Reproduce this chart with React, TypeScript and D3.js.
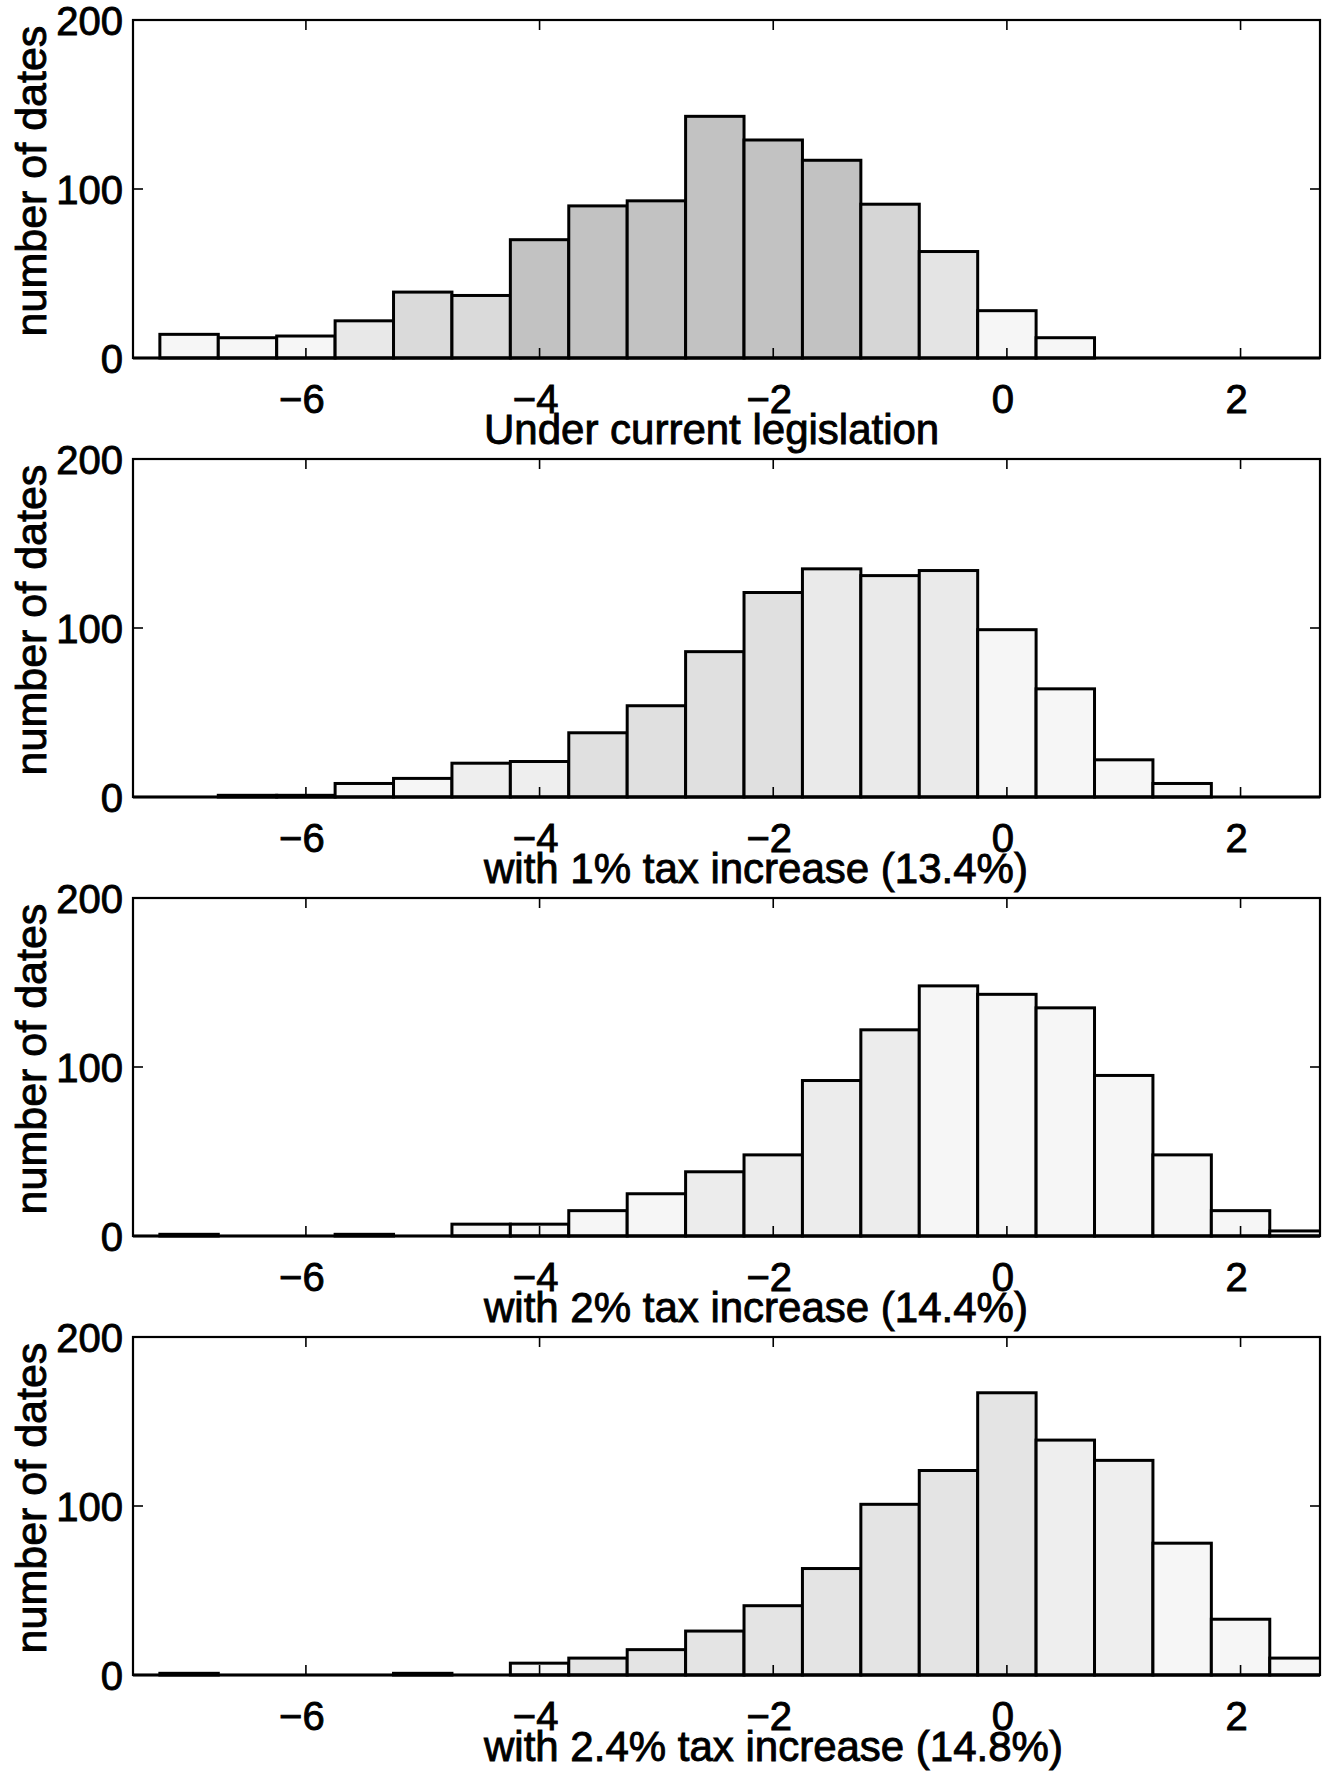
import React from "react";
import * as d3 from "d3";

// ---------- data ----------
const BIN_CENTERS = [-7, -6.5, -6, -5.5, -5, -4.5, -4, -3.5, -3, -2.5, -2, -1.5, -1, -0.5, 0, 0.5, 1, 1.5, 2, 2.5];
const BIN_WIDTH = 0.5;

const COUNTS_CURRENT = [14, 12, 13, 22, 39, 37, 70, 90, 93, 143, 129, 117, 91, 63, 28, 12, 0, 0, 0, 0];
const COUNTS_TAX_1 = [0, 1, 1, 8, 11, 20, 21, 38, 54, 86, 121, 135, 131, 134, 99, 64, 22, 8, 0, 0];
const COUNTS_TAX_2 = [1, 0, 0, 1, 0, 7, 7, 15, 25, 38, 48, 92, 122, 148, 143, 135, 95, 48, 15, 3];
const COUNTS_TAX_24 = [1, 0, 0, 0, 1, 0, 7, 10, 15, 26, 41, 63, 101, 121, 167, 139, 127, 78, 33, 10];

const PANEL_TITLES = [
  "Under current legislation",
  "with 1% tax increase (13.4%)",
  "with 2% tax increase (14.4%)",
  "with 2.4% tax increase (14.8%)",
];

const X_TICKS = [-6, -4, -2, 0, 2];
const Y_TICKS = [0, 100, 200];
const X_DOMAIN = [-7.48, 2.68];
const Y_DOMAIN = [0, 200];
const Y_LABEL = "number of dates";

// ---------- style (not data) ----------
const SHADE_RULES = [
  [
    { from: -4.1, to: -1.4, c: "#c2c2c2" },
    { from: -5.1, to: -4.4, c: "#dadada" },
    { from: -1.1, to: -0.9, c: "#d6d6d6" },
    { from: -0.6, to: -0.4, c: "#e4e4e4" },
    { from: -5.6, to: -5.4, c: "#e8e8e8" },
  ],
  [
    { from: -3.6, to: -1.9, c: "#e0e0e0" },
    { from: -1.6, to: -0.4, c: "#eaeaea" },
    { from: -4.6, to: -3.9, c: "#eeeeee" },
  ],
  [
    { from: -2.6, to: -0.9, c: "#ececec" },
  ],
  [
    { from: -3.6, to: 0.1, c: "#e4e4e4" },
    { from: 0.4, to: 1.1, c: "#eeeeee" },
  ],
];
const DEFAULT_SHADE = "#f6f6f6";

const W = 1331;
const H = 1771;
const LEFT = 133;
const RIGHT = 1320;
const PANEL_TOPS = [20, 459, 898, 1337];
const PANEL_H = 338;
const FONT = "'Liberation Sans', Arial, Helvetica, sans-serif";
const TEXT_STROKE = 0.9;

const SERIES = [COUNTS_CURRENT, COUNTS_TAX_1, COUNTS_TAX_2, COUNTS_TAX_24];

const fmtTick = (v: number) => (v < 0 ? "\u2212" + Math.abs(v) : String(v));

function shadeFor(panel: number, center: number) {
  for (const r of SHADE_RULES[panel]) {
    if (center >= r.from && center <= r.to) return r.c;
  }
  return DEFAULT_SHADE;
}

function Panel({ idx }: { idx: number }) {
  const top = PANEL_TOPS[idx];
  const bottom = top + PANEL_H;
  const x = d3.scaleLinear().domain(X_DOMAIN).range([LEFT, RIGHT]);
  const y = d3.scaleLinear().domain(Y_DOMAIN).range([bottom, top]);
  const counts = SERIES[idx];
  const clipId = `clip-${idx}`;
  const tickLen = 10;
  const textProps = {
    fontFamily: FONT,
    fill: "#000",
    stroke: "#000",
    strokeWidth: TEXT_STROKE,
  };

  return (
    <g>
      <defs>
        <clipPath id={clipId}>
          <rect x={LEFT} y={top - 2} width={RIGHT - LEFT} height={PANEL_H + 4} />
        </clipPath>
      </defs>
      <rect x={LEFT} y={top} width={RIGHT - LEFT} height={PANEL_H} fill="#ffffff" />
      <g clipPath={`url(#${clipId})`}>
        {BIN_CENTERS.map((c, i) => {
          const v = counts[i];
          if (!v) return null;
          const x0 = x(c - BIN_WIDTH / 2);
          const x1 = x(c + BIN_WIDTH / 2);
          return (
            <rect
              key={i}
              x={x0}
              y={y(v)}
              width={x1 - x0}
              height={y(0) - y(v)}
              fill={shadeFor(idx, c)}
              stroke="#000"
              strokeWidth={3}
            />
          );
        })}
      </g>
      {X_TICKS.map((t) => (
        <g key={"xt" + t}>
          <line x1={x(t)} x2={x(t)} y1={bottom} y2={bottom - tickLen} stroke="#000" strokeWidth={1.6} />
          <line x1={x(t)} x2={x(t)} y1={top} y2={top + tickLen} stroke="#000" strokeWidth={1.6} />
          <text x={x(t) - 4} y={bottom + 55} textAnchor="middle" fontSize={40} {...textProps}>
            {fmtTick(t)}
          </text>
        </g>
      ))}
      {Y_TICKS.map((t) => (
        <g key={"yt" + t}>
          <line x1={LEFT} x2={LEFT + tickLen} y1={y(t)} y2={y(t)} stroke="#000" strokeWidth={1.6} />
          <line x1={RIGHT} x2={RIGHT - tickLen} y1={y(t)} y2={y(t)} stroke="#000" strokeWidth={1.6} />
          <text x={LEFT - 10} y={y(t) + 15} textAnchor="end" fontSize={40} {...textProps}>
            {fmtTick(t)}
          </text>
        </g>
      ))}
      <rect x={LEFT} y={top} width={RIGHT - LEFT} height={PANEL_H} fill="none" stroke="#000" strokeWidth={2.2} />
      <line x1={LEFT} x2={RIGHT} y1={bottom} y2={bottom} stroke="#000" strokeWidth={3} />
      <text
        transform={`translate(${46},${(top + bottom) / 2 - 8}) rotate(-90)`}
        textAnchor="middle"
        fontSize={43}
        {...textProps}
      >
        {Y_LABEL}
      </text>
      <text x={484} y={bottom + 86} textAnchor="start" fontSize={42} {...textProps}>
        {PANEL_TITLES[idx]}
      </text>
    </g>
  );
}

export default function App() {
  return (
    <svg
      width={W}
      height={H}
      viewBox={`0 0 ${W} ${H}`}
      style={{ position: "absolute", left: 0, top: 0, background: "#fff" }}
    >
      <rect x={0} y={0} width={W} height={H} fill="#fff" />
      {PANEL_TOPS.map((_, i) => (
        <Panel key={i} idx={i} />
      ))}
    </svg>
  );
}
